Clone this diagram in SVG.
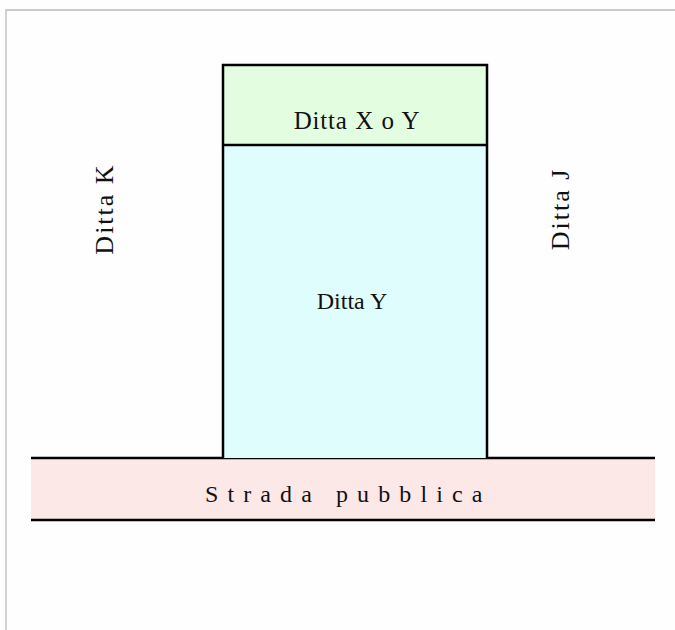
<svg xmlns="http://www.w3.org/2000/svg" width="675" height="630" viewBox="0 0 675 630">
<style>
.t{font-family:"Liberation Serif","Times New Roman",serif;font-size:23px;fill:#111;}
.s{font-size:26px;letter-spacing:2px;}
.ln{stroke:#000;stroke-width:2.5;}
</style>
<rect x="0" y="0" width="675" height="630" fill="#fefefe"/>
<path d="M6,630 V10 H675" fill="none" stroke="#bbb" stroke-width="1.3"/>
<g id="strada">
<rect x="31" y="458" width="624" height="62" fill="#fde8e8"/>
<line class="ln" x1="31" y1="458" x2="655" y2="458"/>
<line class="ln" x1="31" y1="520" x2="655" y2="520"/>
<text class="t" x="205" y="502" style="font-size:24px;letter-spacing:9.1px">Strada pubblica</text>
</g>
<g id="dittaY">
<rect x="223" y="145" width="264" height="313" fill="#e0fdfd"/>
<line class="ln" x1="223" y1="146" x2="223" y2="458"/>
<line class="ln" x1="487" y1="146" x2="487" y2="458"/>
<text class="t" x="352" y="309" text-anchor="middle" style="font-size:24px">Ditta Y</text>
</g>
<g id="dittaXoY">
<rect class="ln" x="223" y="65" width="264" height="80" fill="#e2fde0"/>
<text class="t" x="357" y="129" text-anchor="middle" style="font-size:25px;letter-spacing:0.8px;word-spacing:0.5px">Ditta X o Y</text>
</g>
<g id="dittaK">
<text class="t s" transform="translate(113,209) rotate(-90)" text-anchor="middle">Ditta K</text>
</g>
<g id="dittaJ">
<text class="t s" transform="translate(569,209) rotate(-90)" text-anchor="middle">Ditta J</text>
</g>
</svg>
